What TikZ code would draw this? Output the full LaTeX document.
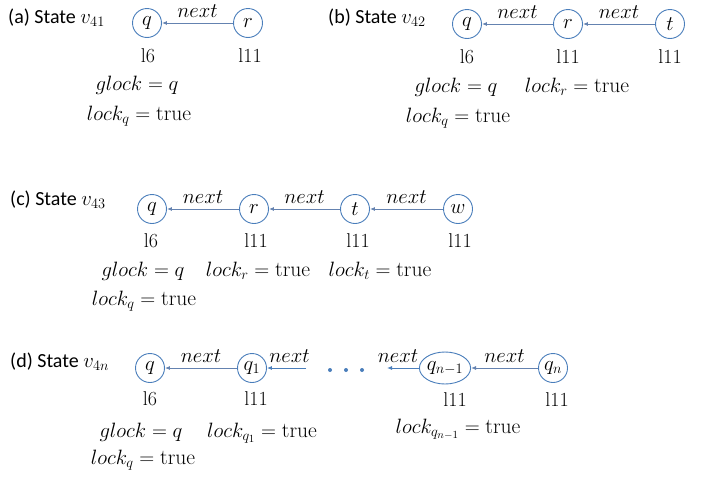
\documentclass[tikz,border=0pt]{standalone}
\usepackage{fontspec}
\newfontfamily\lblfont{Carlito}
\usetikzlibrary{arrows.meta,shapes.geometric}
\definecolor{circ}{RGB}{74,126,187}
\definecolor{arr}{RGB}{100,130,176}
\tikzset{
  st/.style={circle, draw=circ, line width=0.9pt, minimum size=29pt, inner sep=0pt, font=\fontsize{20}{24}\selectfont},
  stel/.style={ellipse, draw=circ, line width=0.9pt, minimum width=44pt, minimum height=32pt, inner sep=0pt, font=\fontsize{20}{24}\selectfont},
  lnk/.style={draw=arr, line width=0.9pt, -{Latex[length=5pt,width=4pt]}},
  lab/.style={midway, anchor=base, yshift=6pt, inner sep=0pt, font=\fontsize{20}{24}\selectfont},
  txt/.style={anchor=base, inner sep=0pt, font=\fontsize{20}{24}\selectfont},
  eqn/.style={anchor=base, inner sep=0pt, font=\fontsize{21.5}{26}\selectfont},
  ttl/.style={anchor=base west, inner sep=0pt, font=\lblfont\fontsize{20}{24}\selectfont},
}
\begin{document}
\begin{tikzpicture}[x=1pt, y=-1pt]
\useasboundingbox (0,0) rectangle (710,477);
% ---------- (a)
\node[ttl] (ta) at (8,23) {(a) State $v_{41}$};
\node[st] (aq) at (147,23) {$q$};
\node[st] (ar) at (248,23) {$r$};
\draw[lnk] (ar) -- node[lab] (an1) {$next$} (aq);
\node[txt] (al1) at (148,62) {l6};
\node[txt] (al2) at (250,62) {l11};
\node[eqn] (ag) at (137,90) {$glock = q$};
\node[eqn] (alq) at (139,120) {$lock_q = \mathrm{true}$};
% ---------- (b)
\node[ttl] (tb) at (328,23) {(b) State $v_{42}$};
\node[st] (bq) at (467,24) {$q$};
\node[st] (br) at (568,24) {$r$};
\node[st] (bt) at (670,24) {$t$};
\draw[lnk] (br) -- node[lab] (bn1) {$next$} (bq);
\draw[lnk] (bt) -- node[lab] (bn2) {$next$} (br);
\node[txt] (bl1) at (467,63) {l6};
\node[txt] (bl2) at (568,63) {l11};
\node[txt] (bl3) at (670,63) {l11};
\node[eqn] (bg) at (456,92) {$glock = q$};
\node[eqn] (blr) at (577,92) {$lock_r = \mathrm{true}$};
\node[eqn] (blq) at (458,122) {$lock_q = \mathrm{true}$};
% ---------- (c)
\node[ttl] (tc) at (10,205) {(c) State $v_{43}$};
\node[st] (cq) at (152,209) {$q$};
\node[st] (cr) at (254,209) {$r$};
\node[st] (ct) at (355,209) {$t$};
\node[st] (cw) at (458,209) {$w$};
\draw[lnk] (cr) -- node[lab] (cn1) {$next$} (cq);
\draw[lnk] (ct) -- node[lab] (cn2) {$next$} (cr);
\draw[lnk] (cw) -- node[lab] (cn3) {$next$} (ct);
\node[txt] (cl1) at (151,247) {l6};
\node[txt] (cl2) at (256,247) {l11};
\node[txt] (cl3) at (358,247) {l11};
\node[txt] (cl4) at (460,247) {l11};
\node[eqn] (cg) at (143,276) {$glock = q$};
\node[eqn] (clr) at (258,276) {$lock_r = \mathrm{true}$};
\node[eqn] (clt) at (380,276) {$lock_t = \mathrm{true}$};
\node[eqn] (clq) at (144,305) {$lock_q = \mathrm{true}$};
% ---------- (d)
\node[ttl] (td) at (10,367) {(d) State $v_{4n}$};
\node[st] (dq) at (150,368) {$q$};
\node[st] (dq1) at (252,368) {$q_1$};
\coordinate (dc1) at (306,368);
\node[stel] (dqm) at (445,368) {$q_{n-1}$};
\coordinate (dc2) at (387,368);
\node[st] (dqn) at (553,368) {$q_n$};
\draw[lnk] (dq1) -- node[lab] (dn1) {$next$} (dq);
\draw[lnk, draw=circ] (dc1) -- node[lab, xshift=3pt] (dn2) {$next$} (dq1);
\draw[lnk, draw=circ] (dqm) -- node[lab, xshift=-5pt] (dn3) {$next$} (dc2);
\draw[lnk] (dqn) -- node[lab] (dn4) {$next$} (dqm);
\foreach \xx in {330,346,362} \fill[circ] (\xx,370) circle (2pt);
\node[txt] (dl1) at (150,405) {l6};
\node[txt] (dl2) at (256,405) {l11};
\node[txt] (dl3) at (455,406) {l11};
\node[txt] (dl4) at (557,406) {l11};
\node[eqn] (dg) at (141,437) {$glock = q$};
\node[eqn] (dlq1) at (262,437) {$lock_{q_1} = \mathrm{true}$};
\node[eqn] (dlqm) at (458,433) {$lock_{q_{n-1}} = \mathrm{true}$};
\node[eqn] (dlq) at (143,464) {$lock_q = \mathrm{true}$};
\end{tikzpicture}
\end{document}
